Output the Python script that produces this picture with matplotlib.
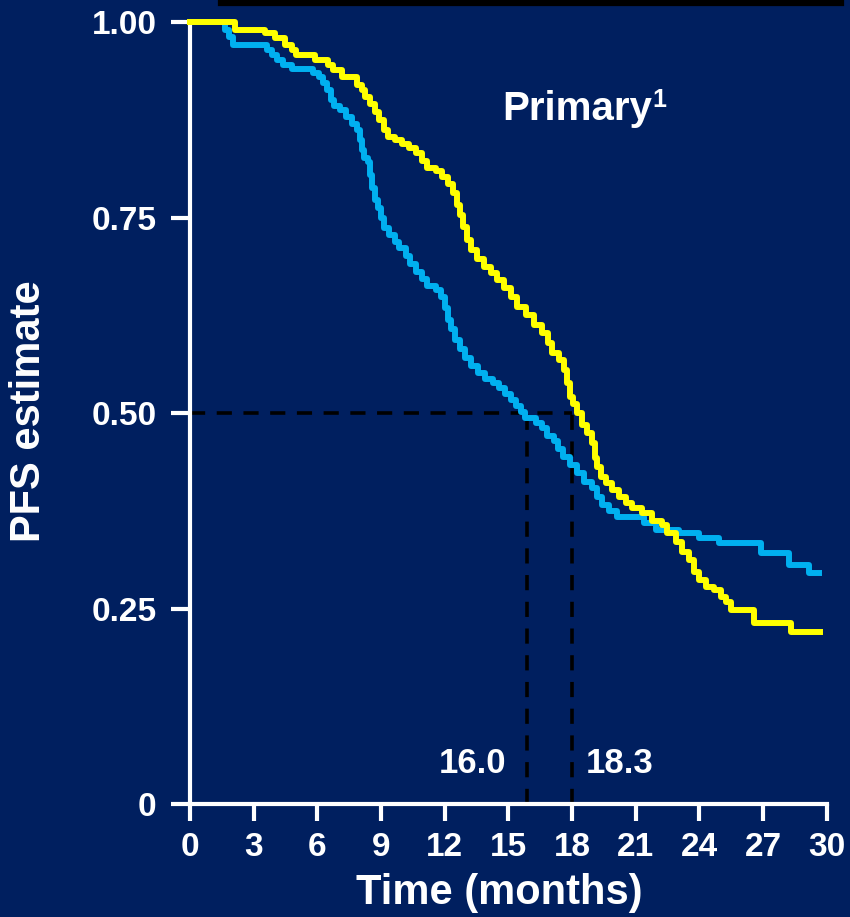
import matplotlib.pyplot as plt
from matplotlib.lines import Line2D

plt.rcParams['font.family'] = ['Liberation Sans', 'DejaVu Sans']
plt.rcParams['font.weight'] = 'bold'

BG = '#001F5F'
YELLOW = '#FFFF00'
CYAN = '#00B0F0'

# Kaplan-Meier knots (months, PFS estimate)
yellow_t = [0, 2.12, 3.53, 4.00, 4.47, 4.80, 4.98, 5.88, 6.49, 6.72, 7.15, 7.85,
            8.09, 8.27, 8.46, 8.70, 8.93, 9.12, 9.31, 9.64, 9.97, 10.30, 10.63,
            10.91, 11.19, 11.61, 11.89, 12.18, 12.41, 12.60, 12.74, 12.88, 13.07,
            13.26, 13.54, 13.87, 14.20, 14.48, 14.81, 15.14, 15.42, 15.84, 16.22,
            16.60, 16.88, 17.07, 17.40, 17.63, 17.77, 17.91, 18.05, 18.24, 18.48,
            18.71, 18.95, 19.09, 19.18, 19.37, 19.61, 19.89, 20.22, 20.55, 20.83,
            21.30, 21.77, 22.24, 22.47, 22.90, 23.18, 23.51, 23.74, 23.98, 24.31,
            24.68, 25.01, 25.25, 25.48, 26.56, 28.30, 29.71]
yellow_s = [1.0, 0.990, 0.986, 0.980, 0.971, 0.964, 0.958, 0.951, 0.945, 0.939,
            0.930, 0.919, 0.913, 0.904, 0.895, 0.885, 0.875, 0.862, 0.853, 0.849,
            0.844, 0.839, 0.832, 0.822, 0.813, 0.809, 0.802, 0.793, 0.781, 0.766,
            0.753, 0.738, 0.721, 0.708, 0.697, 0.687, 0.679, 0.670, 0.660, 0.648,
            0.636, 0.625, 0.613, 0.602, 0.590, 0.577, 0.568, 0.555, 0.538, 0.520,
            0.511, 0.500, 0.485, 0.474, 0.462, 0.442, 0.431, 0.418, 0.410, 0.402,
            0.393, 0.385, 0.379, 0.372, 0.362, 0.357, 0.347, 0.335, 0.322, 0.312,
            0.297, 0.286, 0.277, 0.274, 0.265, 0.258, 0.248, 0.231, 0.220, 0.220]

cyan_t = [0, 1.65, 1.83, 2.02, 3.62, 3.86, 4.09, 4.37, 4.80, 5.78, 6.06, 6.25,
          6.44, 6.63, 6.77, 7.05, 7.33, 7.62, 7.85, 7.99, 8.09, 8.18, 8.37, 8.46,
          8.56, 8.70, 8.84, 8.98, 9.12, 9.40, 9.64, 9.87, 10.16, 10.39, 10.63,
          10.91, 11.19, 11.57, 11.85, 12.04, 12.18, 12.32, 12.51, 12.74, 12.98,
          13.26, 13.59, 13.92, 14.29, 14.57, 14.86, 15.14, 15.37, 15.61, 15.80,
          16.31, 16.60, 16.83, 17.16, 17.35, 17.58, 17.91, 18.24, 18.57, 18.95,
          19.18, 19.42, 19.75, 20.12, 21.39, 21.96, 23.04, 23.98, 24.92, 26.89,
          28.21, 29.15, 29.62]
cyan_s = [1.0, 0.990, 0.981, 0.971, 0.964, 0.958, 0.951, 0.945, 0.940, 0.935,
          0.930, 0.922, 0.913, 0.900, 0.893, 0.887, 0.879, 0.870, 0.862, 0.849,
          0.836, 0.826, 0.821, 0.804, 0.788, 0.772, 0.762, 0.749, 0.737, 0.728,
          0.719, 0.711, 0.701, 0.691, 0.680, 0.671, 0.662, 0.657, 0.648, 0.634,
          0.619, 0.607, 0.593, 0.582, 0.570, 0.560, 0.551, 0.543, 0.538, 0.532,
          0.524, 0.517, 0.509, 0.501, 0.494, 0.487, 0.481, 0.471, 0.464, 0.454,
          0.444, 0.434, 0.423, 0.412, 0.404, 0.393, 0.382, 0.375, 0.367, 0.359,
          0.350, 0.347, 0.340, 0.334, 0.321, 0.306, 0.295, 0.295]

# medians as drawn on the slide
median_cyan_x = 15.9
median_yellow_x = 18.0
median_labels = ['16.0', '18.3']

x_ticks = [0, 3, 6, 9, 12, 15, 18, 21, 24, 27, 30]
y_ticks = [0, 0.25, 0.5, 0.75, 1.0]
y_ticklabels = ['0', '0.25', '0.50', '0.75', '1.00']

fig = plt.figure(figsize=(8.5, 9.17), dpi=100, facecolor=BG)
ax = fig.add_axes([0.2235, 0.1232, 0.749, 0.8528])
ax.set_facecolor(BG)

# median guide lines
dash_kw = dict(color='black', lw=2.6, dashes=(4.2, 3.2), zorder=2)
ax.plot([0, median_yellow_x], [0.5, 0.5], **dash_kw)
ax.plot([median_cyan_x, median_cyan_x], [0, 0.5], **dash_kw)
ax.plot([median_yellow_x, median_yellow_x], [0, 0.5], **dash_kw)

ax.step(cyan_t, cyan_s, where='post', color=CYAN, lw=4.3, zorder=3, clip_on=False)
ax.step(yellow_t, yellow_s, where='post', color=YELLOW, lw=4.3, zorder=4, clip_on=False)

ax.set_xlim(0, 30)
ax.set_ylim(0, 1)
ax.set_xticks(x_ticks)
ax.set_yticks(y_ticks)
ax.set_yticklabels(y_ticklabels)

for side in ['top', 'right']:
    ax.spines[side].set_visible(False)
for side in ['left', 'bottom']:
    ax.spines[side].set_color('white')
    ax.spines[side].set_linewidth(3)
    ax.spines[side].set_capstyle('projecting')

ax.tick_params(axis='y', colors='white', length=14, width=3, pad=10, labelsize=24)
ax.tick_params(axis='x', colors='white', length=12, width=3, pad=8, labelsize=24)
for lab in ax.get_xticklabels() + ax.get_yticklabels():
    lab.set_fontweight('bold')

# median values
ax.text(14.9, 0.04, median_labels[0], color='white', fontsize=25, fontweight='bold',
        ha='right', va='baseline')
ax.text(18.66, 0.04, median_labels[1], color='white', fontsize=25, fontweight='bold',
        ha='left', va='baseline')

# axis titles
fig.text(29 / 850, 1 - 411 / 917, 'PFS estimate', rotation=90, color='white',
         fontsize=30, fontweight='bold', ha='center', va='center')
fig.text(499 / 850, 1 - 893 / 917, 'Time (months)', color='white',
         fontsize=30, fontweight='bold', ha='center', va='center')

# panel title with superscript
fig.text(502 / 850, 1 - 120 / 917, 'Primary', color='white',
         fontsize=29, fontweight='bold', ha='left', va='baseline')
fig.text(652 / 850, 1 - 107 / 917, '1', color='white',
         fontsize=18, fontweight='bold', ha='left', va='baseline')

# black rule across the top of the slide
fig.add_artist(Line2D([221 / 850, 841 / 850], [1 - 3 / 917, 1 - 3 / 917],
                      color='black', lw=4.5))

fig.savefig('out.png', dpi=100, facecolor=BG)
